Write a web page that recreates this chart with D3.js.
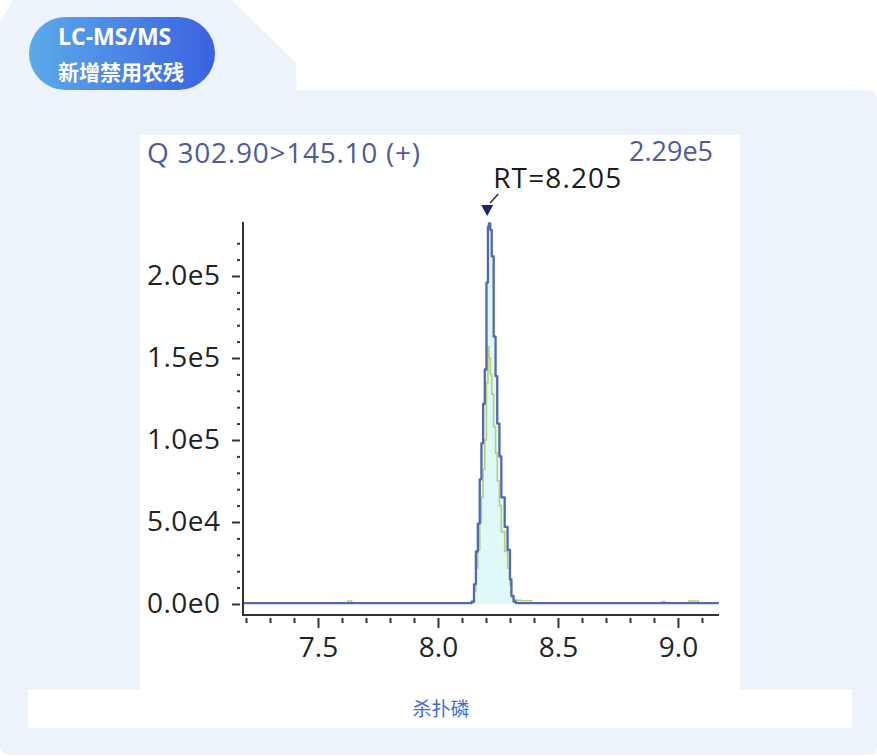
<!DOCTYPE html>
<html>
<head>
<meta charset="utf-8">
<script src="https://cdn.jsdelivr.net/npm/d3@7"></script>
<style>
  html, body { margin: 0; padding: 0; background: #ffffff; }
  svg { display: block; }
</style>
</head>
<body>
<svg id="chart" width="877" height="756"></svg>
<script>
// ---------------- data ----------------
const badgeLines = ["LC-MS/MS", "新增禁用农残"];
const compoundName = "杀扑磷";
const transitionLabel = "Q 302.90>145.10 (+)";
const maxIntensityLabel = "2.29e5";
const retentionTime = 8.205;
const rtLabel = "RT=8.205";

// retention time (min)
const times = [7.19, 7.60, 7.625, 7.64, 8.10, 8.140, 8.150, 8.158, 8.166, 8.174, 8.181, 8.188, 8.195,
  8.202, 8.208, 8.212, 8.218, 8.224, 8.232, 8.240, 8.247, 8.256, 8.264, 8.278, 8.290, 8.300,
  8.306, 8.315, 8.325, 8.345, 8.39, 8.92, 8.935, 8.945, 9.04, 9.045, 9.075, 9.085, 9.17];
// quantifier trace (blue)
const quantIntensity = [500, 500, 500, 500, 500, 1500, 12000, 32000, 49000, 76000, 98000, 122000, 143000,
  196000, 230000, 232000, 228000, 212000, 163000, 139000, 110000, 90000, 65000, 47000, 33000, 15000,
  5000, 1500, 500, 500, 500, 500, 500, 500, 500, 500, 500, 500, 500];
// qualifier trace (green)
const qualIntensity = [500, 500, 1800, 500, 500, 800, 8000, 22000, 33000, 50000, 65000, 82000, 100000,
  135000, 157000, 150000, 140000, 128000, 108000, 92000, 75000, 60000, 44000, 32000, 22000, 12000,
  4000, 2500, 2200, 2000, 500, 500, 1500, 500, 500, 1800, 1800, 500, 500];

const xMajorTicks = [7.5, 8.0, 8.5, 9.0];
const xMinorTicks = [7.2, 7.3, 7.4, 7.6, 7.7, 7.8, 7.9, 8.1, 8.2, 8.3, 8.4, 8.6, 8.7, 8.8, 8.9, 9.1];
const yMajorTicks = [0, 50000, 100000, 150000, 200000];
const yMajorLabels = ["0.0e0", "5.0e4", "1.0e5", "1.5e5", "2.0e5"];
const yMinorTicks = [10000, 20000, 30000, 40000, 60000, 70000, 80000, 90000, 110000, 120000, 130000,
  140000, 160000, 170000, 180000, 190000, 210000, 220000];

// ---------------- drawing ----------------
const svg = d3.select("#chart");
const defs = svg.append("defs");
const grad = defs.append("linearGradient").attr("id", "pill").attr("x1", "0").attr("x2", "1").attr("y1", "0").attr("y2", "0");
grad.append("stop").attr("offset", "0").attr("stop-color", "#5caaea");
grad.append("stop").attr("offset", "1").attr("stop-color", "#3a62e0");

// light blue card with tab
svg.append("path")
  .attr("d", "M0,22 L13,0 L232,0 L296,63 L296,90 L867,90 Q877,90 877,100 L877,745 Q877,755 867,755 L10,755 Q0,755 0,745 Z")
  .attr("fill", "#ecf3fb");

// badge pill
svg.append("rect").attr("x", 29).attr("y", 17).attr("width", 186).attr("height", 73).attr("rx", 36.5)
  .attr("fill", "url(#pill)");
svg.append("text").attr("x", 58).attr("y", 45).text(badgeLines[0])
  .attr("font-family", "'Open Sans', 'Noto Sans', sans-serif").attr("font-weight", 700)
  .attr("font-size", 23).attr("fill", "#ffffff");
svg.append("text").attr("x", 58).attr("y", 80).text(badgeLines[1])
  .attr("font-family", "'Noto Sans CJK SC', sans-serif").attr("font-weight", 700)
  .attr("font-size", 21).attr("fill", "#ffffff");

// white chart panel & caption panel
svg.append("rect").attr("x", 140).attr("y", 135).attr("width", 600).attr("height", 555).attr("fill", "#ffffff");
svg.append("rect").attr("x", 28).attr("y", 689).attr("width", 824).attr("height", 39).attr("fill", "#ffffff");
svg.append("text").attr("x", 441).attr("y", 716).attr("text-anchor", "middle").text(compoundName)
  .attr("font-family", "'Noto Sans CJK SC', sans-serif").attr("font-size", 19).attr("fill", "#3d6bd8");

// scales
const x = d3.scaleLinear().domain([7.1875, 9.171]).range([243, 719]);
const y = d3.scaleLinear().domain([0, 200000]).range([604, 276]);

const font = "'Open Sans', 'Noto Sans', sans-serif";

// fill + traces
const area = d3.area().x((d, i) => x(times[i])).y0(y(0)).y1(d => y(d)).curve(d3.curveStepAfter);
svg.append("path").datum(quantIntensity).attr("d", area).attr("fill", "#dff8f8");

const line = d3.line().x((d, i) => x(times[i])).y(d => y(d)).curve(d3.curveStepAfter);
svg.append("path").datum(qualIntensity).attr("d", line)
  .attr("fill", "none").attr("stroke", "#b3d46a").attr("stroke-width", 1.6);
svg.append("path").datum(quantIntensity).attr("d", line)
  .attr("fill", "none").attr("stroke", "#5367b3").attr("stroke-width", 2.3).attr("stroke-linejoin", "round");

// axes lines
const axisColor = "#333333";
svg.append("line").attr("x1", 243).attr("x2", 243).attr("y1", 222).attr("y2", 615)
  .attr("stroke", axisColor).attr("stroke-width", 2);
svg.append("line").attr("x1", 242).attr("x2", 719).attr("y1", 615).attr("y2", 615)
  .attr("stroke", axisColor).attr("stroke-width", 2);

// y axis
const yMajor = svg.append("g").attr("transform", "translate(240,0)")
  .call(d3.axisLeft(y).tickValues(yMajorTicks).tickSizeInner(8).tickSizeOuter(0).tickPadding(12)
    .tickFormat((d, i) => yMajorLabels[i]));
yMajor.select(".domain").remove();
yMajor.selectAll("line").attr("stroke", axisColor).attr("stroke-width", 2);
yMajor.selectAll("text").attr("font-family", font).attr("font-size", 28).attr("fill", "#222")
  .attr("textLength", 73);

const yMinor = svg.append("g").attr("transform", "translate(240,0)")
  .call(d3.axisLeft(y).tickValues(yMinorTicks).tickSizeInner(3).tickSizeOuter(0).tickFormat(""));
yMinor.select(".domain").remove();
yMinor.selectAll("line").attr("stroke", axisColor).attr("stroke-width", 2);

// x axis
const xMajor = svg.append("g").attr("transform", "translate(0,618)")
  .call(d3.axisBottom(x).tickValues(xMajorTicks).tickSizeInner(10).tickSizeOuter(0).tickPadding(9)
    .tickFormat(d3.format(".1f")));
xMajor.select(".domain").remove();
xMajor.selectAll("line").attr("stroke", axisColor).attr("stroke-width", 2);
xMajor.selectAll("text").attr("font-family", font).attr("font-size", 28).attr("fill", "#222");

const xMinor = svg.append("g").attr("transform", "translate(0,618)")
  .call(d3.axisBottom(x).tickValues(xMinorTicks).tickSizeInner(5).tickSizeOuter(0).tickFormat(""));
xMinor.select(".domain").remove();
xMinor.selectAll("line").attr("stroke", axisColor).attr("stroke-width", 2);

// header texts
svg.append("text").attr("x", 147).attr("y", 163).text(transitionLabel)
  .attr("font-family", font).attr("font-size", 28).attr("fill", "#4f5a9c")
  .attr("textLength", 273);
svg.append("text").attr("x", 713).attr("y", 161).attr("text-anchor", "end").text(maxIntensityLabel)
  .attr("font-family", font).attr("font-size", 27).attr("fill", "#4f5a9c");

// RT annotation
const rx = x(retentionTime);
svg.append("text").attr("x", rx + 6).attr("y", 188).text(rtLabel)
  .attr("font-family", font).attr("font-size", 28).attr("fill", "#1a1a1a")
  .attr("textLength", 128);
svg.append("line").attr("x1", rx + 3).attr("y1", 203).attr("x2", rx + 11).attr("y2", 194)
  .attr("stroke", "#333").attr("stroke-width", 1.6);
svg.append("path").attr("d", `M${rx - 6},205 L${rx + 6},205 L${rx},216 Z`).attr("fill", "#1b2670");
</script>
</body>
</html>
